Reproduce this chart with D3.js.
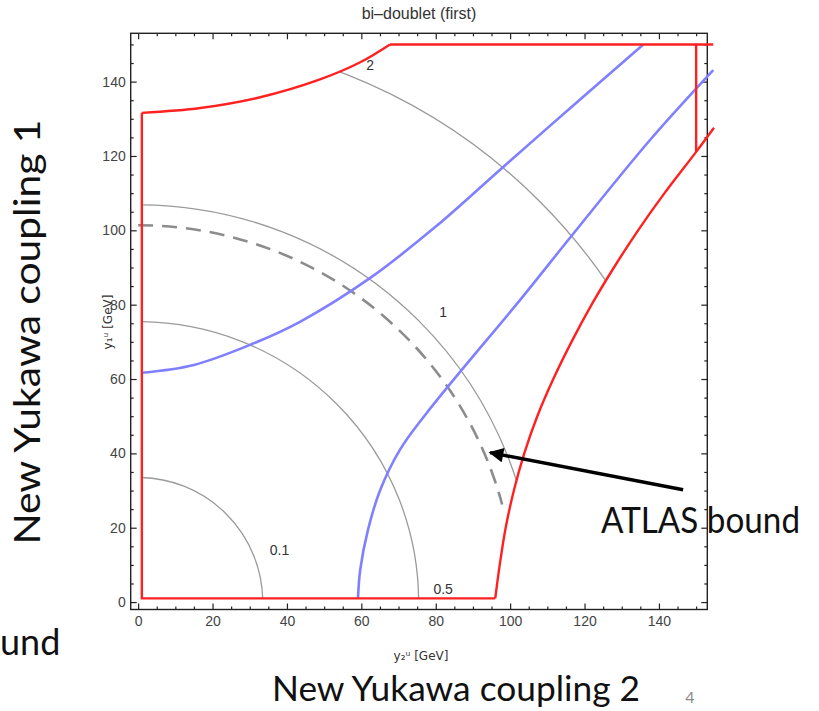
<!DOCTYPE html>
<html>
<head>
<meta charset="utf-8">
<script src="https://cdn.jsdelivr.net/npm/d3@7"></script>
<style>
    body { margin: 0; background: #fff; }
    .slide { font-family: "Lato", "Open Sans", sans-serif; fill: #111; }
    .tick text { font-family: "Liberation Sans", Arial, sans-serif; font-size: 14px; fill: #444; }
    .tick line { stroke: #222; stroke-width: 1.2; }
</style>
</head>
<body>
<script>
// bi-doublet contour plot on a slide

const svgWidth = 819;
const svgHeight = 711;

// tick values
const majorTicks = [0, 20, 40, 60, 80, 100, 120, 140];
const minorTicks = [5, 10, 15, 25, 30, 35, 45, 50, 55, 65, 70, 75, 85, 90, 95, 105, 110, 115, 125, 130, 135, 145, 150];

// grey contours (labels, radius in GeV, label spot)
const contourLevels = ["0.1", "0.5", "1", "2"];
const contourRadii = [33.5, 75.4, 106.8, 152.5];
const contourLabelPos = [[38, 14], [82, 3.6], [82, 78], [62.4, 144.4]];

// dashed ATLAS bound
const atlasRadius = 101.3;
const atlasEndDeg = 15;

// red boundary pieces
const redLeft = [[1, 131.6], [1, 1], [96, 1]];
const redUpper = [[1, 131.6], [16.7, 132.9], [32.8, 135.8], [48.9, 140.6], [59.7, 145.2], [67.7, 150]];
const redTop = [[67.7, 150], [154.6, 150]];
const redVert = [[150, 150], [150, 121.1]];
const redLower = [[96, 1], [97.2, 10], [98.8, 20], [101, 30], [103.8, 40], [107.3, 50], [111.6, 60], [116.5, 70],
    [121.9, 80], [127.9, 90], [134.4, 100], [141.5, 110], [150, 121.1], [154.8, 127.6]];

// blue curves
const blueUpper = [[1, 61.7], [15, 63.8], [30.1, 69.2], [43.5, 75.4], [62.4, 87.2], [80, 101], [97.3, 116.3],
    [116.5, 133.2], [135.8, 150]];
const blueLower = [[59.1, 1], [59.7, 8.7], [61.8, 19.5], [65.1, 30.2], [70.4, 41], [77.2, 50.4], [85.2, 60.3],
    [102.7, 81.3], [116.1, 98], [137.6, 124.3], [154.6, 143.1]];

// arrow annotation (data coords: tail, tip)
const arrowTail = [146.5, 30.2];
const arrowTip = [94.6, 40.2];

// plot frame in pixels
const frame = { left: 130.7, right: 707.3, top: 33.3, bottom: 609.5 };

const svg = d3.select("body")
    .append("svg")
    .attr("width", svgWidth)
    .attr("height", svgHeight);

const x = d3.scaleLinear().domain([-2, 153]).range([frame.left, frame.right]);
const y = d3.scaleLinear().domain([-2, 153]).range([frame.bottom, frame.top]);

const line = d3.line().x(d => x(d[0])).y(d => y(d[1]));
const smooth = d3.line().x(d => x(d[0])).y(d => y(d[1])).curve(d3.curveCatmullRom.alpha(0.5));

const defs = svg.append("defs");

// allowed region, used to clip grey contours
const regionPath = line([[1, 1], [1, 131.6]])
    + smooth(redUpper).replace(/^M/, "L")
    + line([[67.7, 150], [154.8, 150], [154.8, 127.6]]).replace(/^M/, "L")
    + smooth(redLower.slice().reverse()).replace(/^M/, "L")
    + "Z";
defs.append("clipPath").attr("id", "region").append("path").attr("d", regionPath);

defs.append("marker")
    .attr("id", "head")
    .attr("viewBox", "0 0 10 10")
    .attr("refX", 9)
    .attr("refY", 5)
    .attr("markerWidth", 5)
    .attr("markerHeight", 4.2)
    .attr("markerUnits", "strokeWidth")
    .attr("orient", "auto")
    .append("path")
    .attr("d", "M0,0 L10,5 L0,10 Z")
    .attr("fill", "#000");

// axes, ticks pointing inward
const noDomain = g => g.select(".domain").remove();

svg.append("g").attr("transform", `translate(0,${frame.bottom})`)
    .call(d3.axisBottom(x).tickValues(minorTicks).tickSize(-3).tickFormat("")).call(noDomain);
svg.append("g").attr("transform", `translate(0,${frame.bottom})`)
    .call(d3.axisBottom(x).tickValues(majorTicks).tickSize(-6).tickPadding(7)).call(noDomain);

svg.append("g").attr("transform", `translate(0,${frame.top})`)
    .call(d3.axisTop(x).tickValues(minorTicks).tickSize(-3).tickFormat("")).call(noDomain);
svg.append("g").attr("transform", `translate(0,${frame.top})`)
    .call(d3.axisTop(x).tickValues(majorTicks).tickSize(-6).tickFormat("")).call(noDomain);

svg.append("g").attr("transform", `translate(${frame.left},0)`)
    .call(d3.axisLeft(y).tickValues(minorTicks).tickSize(-3).tickFormat("")).call(noDomain);
svg.append("g").attr("transform", `translate(${frame.left},0)`)
    .call(d3.axisLeft(y).tickValues(majorTicks).tickSize(-6).tickPadding(5)).call(noDomain);

svg.append("g").attr("transform", `translate(${frame.right},0)`)
    .call(d3.axisRight(y).tickValues(minorTicks).tickSize(-3).tickFormat("")).call(noDomain);
svg.append("g").attr("transform", `translate(${frame.right},0)`)
    .call(d3.axisRight(y).tickValues(majorTicks).tickSize(-6).tickFormat("")).call(noDomain);

svg.append("rect")
    .attr("x", frame.left)
    .attr("y", frame.top)
    .attr("width", frame.right - frame.left)
    .attr("height", frame.bottom - frame.top)
    .attr("fill", "none")
    .attr("stroke", "#222")
    .attr("stroke-width", 1.4);

// quarter circle arc around origin
function arcPath(r, endDeg) {
    const p = d3.path();
    p.arc(x(0), y(0), x(r) - x(0), -Math.PI / 2, -endDeg * Math.PI / 180);
    return p.toString();
}

// grey contours
svg.append("g")
    .attr("clip-path", "url(#region)")
    .selectAll("path")
    .data(contourRadii)
    .enter()
    .append("path")
    .attr("d", d => arcPath(d, 0))
    .attr("fill", "none")
    .attr("stroke", "#9a9a9a")
    .attr("stroke-width", 1.3);

svg.append("g")
    .selectAll("text")
    .data(contourLevels)
    .enter()
    .append("text")
    .attr("x", (d, i) => x(contourLabelPos[i][0]))
    .attr("y", (d, i) => y(contourLabelPos[i][1]))
    .attr("dy", "0.35em")
    .attr("text-anchor", "middle")
    .attr("font-family", "Liberation Sans, Arial, sans-serif")
    .attr("font-size", 14)
    .attr("fill", "#333")
    .text(d => d);

// dashed ATLAS bound
svg.append("path")
    .attr("d", arcPath(atlasRadius, atlasEndDeg))
    .attr("fill", "none")
    .attr("stroke", "#8c8c8c")
    .attr("stroke-width", 2.6)
    .attr("stroke-dasharray", "15,9");

// blue curves
svg.append("g")
    .selectAll("path")
    .data([blueUpper, blueLower])
    .enter()
    .append("path")
    .attr("d", smooth)
    .attr("fill", "none")
    .attr("stroke", "#8080ff")
    .attr("stroke-width", 2.6);

// red boundary
const redGroup = svg.append("g")
    .attr("fill", "none")
    .attr("stroke", "#ff2020")
    .attr("stroke-width", 2.4);
redGroup.append("path").attr("d", line(redLeft));
redGroup.append("path").attr("d", smooth(redUpper));
redGroup.append("path").attr("d", line(redTop));
redGroup.append("path").attr("d", line(redVert));
redGroup.append("path").attr("d", smooth(redLower));

// title and axis labels
svg.append("text")
    .attr("x", (frame.left + frame.right) / 2)
    .attr("y", 19)
    .attr("text-anchor", "middle")
    .attr("font-family", "Liberation Sans, Arial, sans-serif")
    .attr("font-size", 16)
    .attr("fill", "#333")
    .text("bi\u2013doublet (first)");

svg.append("text")
    .attr("x", (frame.left + frame.right) / 2 + 2)
    .attr("y", 660)
    .attr("text-anchor", "middle")
    .attr("font-family", "DejaVu Sans, sans-serif")
    .attr("font-size", 12)
    .attr("fill", "#333")
    .text("y\u2082\u1D58 [GeV]");

svg.append("text")
    .attr("transform", "translate(112,322) rotate(-90)")
    .attr("text-anchor", "middle")
    .attr("font-family", "DejaVu Sans, sans-serif")
    .attr("font-size", 12)
    .attr("fill", "#333")
    .text("y\u2081\u1D58 [GeV]");

// arrow pointing at the dashed bound
svg.append("line")
    .attr("x1", x(arrowTail[0]))
    .attr("y1", y(arrowTail[1]))
    .attr("x2", x(arrowTip[0]))
    .attr("y2", y(arrowTip[1]))
    .attr("stroke", "#000")
    .attr("stroke-width", 3.5)
    .attr("marker-end", "url(#head)");

// slide texts
svg.append("text")
    .attr("class", "slide")
    .attr("transform", "translate(40,332) rotate(-90)")
    .attr("text-anchor", "middle")
    .attr("font-size", 36)
    .attr("textLength", 425)
    .attr("lengthAdjust", "spacingAndGlyphs")
    .text("New Yukawa coupling 1");

svg.append("text")
    .attr("class", "slide")
    .attr("x", 456)
    .attr("y", 701)
    .attr("text-anchor", "middle")
    .attr("font-size", 35)
    .attr("textLength", 368)
    .attr("lengthAdjust", "spacingAndGlyphs")
    .text("New Yukawa coupling 2");

svg.append("text")
    .attr("class", "slide")
    .attr("x", 601)
    .attr("y", 533)
    .attr("font-size", 36)
    .attr("textLength", 199)
    .attr("lengthAdjust", "spacingAndGlyphs")
    .text("ATLAS bound");

svg.append("text")
    .attr("class", "slide")
    .attr("x", 0)
    .attr("y", 655)
    .attr("font-size", 36)
    .text("und");

svg.append("text")
    .attr("x", 690)
    .attr("y", 703)
    .attr("text-anchor", "middle")
    .attr("font-family", "Lato, sans-serif")
    .attr("font-size", 16)
    .attr("fill", "#8a8a8a")
    .text("4");
</script>
</body>
</html>
